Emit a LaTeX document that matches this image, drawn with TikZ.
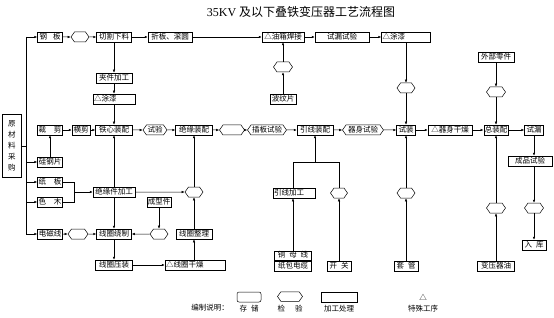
\documentclass[tikz,border=0pt]{standalone}
\usepackage{fontspec}
\setmainfont{Liberation Serif}
\newfontfamily\cjk{Noto Sans CJK SC}
\usetikzlibrary{shapes.symbols,arrows.meta}
\begin{document}
\begin{tikzpicture}[x=1pt,y=-1pt,
 font=\cjk\fontsize{7.5}{8}\selectfont,
 box/.style={draw, line width=0.5pt, fill=white, inner sep=1pt, minimum height=10pt, text height=6pt, text depth=1.5pt},
 lbox/.style={box, align=left},
 hexa/.style={draw, line width=0.5pt, fill=white, shape=signal, signal to=west and east, signal pointer angle=110, inner sep=1pt, minimum height=10pt, text height=6pt, text depth=1.5pt},
 arr/.style={-{Latex[length=3pt,width=2.5pt]}, line width=0.5pt},
 ln/.style={line width=0.5pt}]
\useasboundingbox (0,0) rectangle (554,318);

% title
\node (title) at (301,12) {\fontsize{12}{14}\selectfont{\fontspec{Liberation Serif}35KV} 及以下叠铁变压器工艺流程图};

% row 1
\node[box, minimum width=25pt] (gb) at (50,37) {钢\hspace{6pt}板};
\node[hexa, minimum width=18pt] (h1) at (80,37) {};
\node[box, minimum width=35pt] (qg) at (114,37) {切割下料};
\node[box, minimum width=44pt] (zb) at (170,37) {折板、滚圆};
\node[box, minimum width=42pt] (yx) at (283,37) {△油箱焊接};
\node[box, minimum width=54pt] (sl) at (342,37) {试漏试验};
\node[box, minimum width=49pt, text width=47pt, align=left] (tq1) at (406,37) {△涂漆};

\node[box, minimum width=36pt] (jj) at (114,78) {夹件加工};
\node[box, minimum width=42pt, text width=40pt, align=left] (tq2) at (114,99) {△涂漆};
\node[hexa, minimum width=19pt] (h2) at (283,67) {};
\node[box, minimum width=26pt] (bwp) at (283,99) {波纹片};
\node[hexa, minimum width=18pt] (h3) at (406,88) {};
\node[box, minimum width=36pt] (wb) at (496,57) {外部零件};
\node[hexa, minimum width=19pt] (h4) at (496,92) {};

% raw material
\node[box, minimum width=19pt, minimum height=63pt, text height=, text depth=, align=center, font=\cjk\fontsize{7.5}{11}\selectfont] (ycl) at (12,146) {原\\材\\料\\采\\购};
\coordinate (t1) at (26,37);
\coordinate (t2) at (26,234);

% row 2
\node[box, minimum width=25pt] (cj) at (50,130) {裁\hspace{8pt}剪};
\node[box, minimum width=18pt] (hj) at (81,130) {横剪};
\node[box, minimum width=37pt] (tx) at (114,130) {铁心装配};
\node[hexa, minimum width=23pt] (sy) at (155,130) {试验};
\node[box, minimum width=37pt] (jy) at (194,130) {绝缘装配};
\node[hexa, minimum width=25pt] (h5) at (232,130) {};
\node[hexa, minimum width=39pt] (cb) at (267,130) {插板试验};
\node[box, minimum width=36pt] (yxz) at (315,130) {引线装配};
\node[hexa, minimum width=41pt] (qs) at (363,130) {器身试验};
\node[box, minimum width=19pt] (sz) at (406,130) {试装};
\node[box, minimum width=44pt] (qg2) at (450,130) {△器身干燥};
\node[box, minimum width=23pt] (zz) at (496,130) {总装配};
\node[box, minimum width=19pt] (sl2) at (534,130) {试漏};

% left lower
\node[box, minimum width=25pt] (gg) at (50,162) {硅钢片};
\node[box, minimum width=25pt] (zbb) at (50,182) {纸\hspace{8pt}板};
\node[box, minimum width=25pt] (sm) at (50,202) {色\hspace{8pt}木};
\node[box, minimum width=42pt] (jyj) at (114,192) {绝缘件加工};
\node[hexa, minimum width=18pt] (h6) at (194,192) {};
\node[box, minimum width=24pt] (cx) at (159,202) {成型件};
\node[box, minimum width=25pt] (dcx) at (50,234) {电磁线};
\node[hexa, minimum width=20pt] (h7) at (78,234) {};
\node[box, minimum width=35pt] (xr) at (114,234) {线圈绕制};
\node[hexa, minimum width=18pt] (h8) at (159,234) {};
\node[box, minimum width=36pt] (xz) at (194,234) {线圈整理};
\node[box, minimum width=37pt] (xy) at (114,265) {线圈压装};
\node[box, minimum width=60pt, text width=58pt, align=left] (xg) at (195,265) {△线圈干燥};

% middle lower
\coordinate (j1) at (293,162);
\coordinate (j2) at (339,162);
\coordinate (j3) at (315,162);
\node[box, minimum width=42pt, text width=40pt, align=left] (yjg) at (294,193) {引线加工};
\node[hexa, minimum width=17pt] (h9) at (339,193) {};
\node[hexa, minimum width=18pt] (h10) at (406,193) {};
\node[box, minimum width=37pt, minimum height=9.5pt] (tmx) at (293,255.5) {铜\hspace{4pt}母\hspace{4pt}线};
\node[box, minimum width=37pt] (zbd) at (293,266) {纸包电缆};
\node[box, minimum width=24pt] (kg) at (339,266) {开\hspace{4pt}关};
\node[box, minimum width=24pt] (tg) at (406,266) {套\hspace{4pt}管};

% right lower
\node[hexa, minimum width=19pt] (h11) at (496,208) {};
\node[box, minimum width=37pt] (byq) at (496,266) {变压器油};
\node[box, minimum width=44pt] (cp) at (530,161) {成品试验};
\node[hexa, minimum width=19pt] (h12) at (534,208) {};
\node[box, minimum width=24pt] (rk) at (534,245) {入\hspace{4pt}库};

% legend
\node (lgt) at (210,308) {编制说明：};
\node[box, rounded corners=2pt, minimum width=24pt] (lg1) at (249,297) {};
\node (lgt1) at (249,309) {存\hspace{4pt}储};
\node[hexa, minimum width=25pt, minimum height=9pt] (lg2) at (290,296.5) {};
\node (lgt2) at (290,309) {检\hspace{10pt}验};
\node[box, minimum width=36pt] (lg3) at (339,297) {};
\node (lgt3) at (339,309) {加工处理};
\node (lg4) at (423,297) {△};
\node (lgt4) at (423,309) {特殊工序};

% connectors: trunk
\draw[ln] (t1) -- (t2);
\draw[ln] (ycl.east) -- (ycl.east -| t1);
\draw[arr] (t1) -- (gb.west);
\draw[arr] (t1 |- gg) -- (gg.west);
\draw[arr] (t1 |- zbb) -- (zbb.west);
\draw[arr] (t1 |- sm) -- (sm.west);
\draw[arr] (t2) -- (dcx.west);

% row 1
\draw[arr] (gb) -- (h1);
\draw[arr] (h1) -- (qg);
\draw[arr] (qg) -- (zb);
\draw[arr] (zb) -- (yx);
\draw[arr] (yx) -- (sl);
\draw[arr] (sl) -- (tq1);
\draw[arr] (qg) -- (jj);
\draw[arr] (jj) -- (tq2);
\draw[arr] (tq2) -- (tx);
\draw[arr] (bwp) -- (h2);
\draw[arr] (h2) -- (yx);
\draw[arr] (tq1) -- (h3);
\draw[arr] (h3) -- (sz);
\draw[arr] (wb) -- (h4);
\draw[arr] (h4) -- (zz);

% row 2
\draw[arr] (cj) -- (hj);
\draw[arr] (hj) -- (tx);
\draw[arr] (tx) -- (sy);
\draw[arr] (sy) -- (jy);
\draw[arr] (jy) -- (h5);
\draw[arr] (h5) -- (cb);
\draw[arr] (cb) -- (yxz);
\draw[arr] (yxz) -- (qs);
\draw[arr] (qs) -- (sz);
\draw[arr] (sz) -- (qg2);
\draw[arr] (qg2) -- (zz);
\draw[arr] (zz) -- (sl2);

% left lower
\draw[arr] (gg) -- (cj);
\draw[arr] (jyj.north) -- (tx.south);
\draw[arr] (jyj.south) -- (xr.north);
\draw[ln] (zbb.east) -- (74,182) -- (74,202) -- (sm.east);
\draw[arr] (74,192) -- (jyj.west);
\draw[arr] (jyj) -- (h6);
\draw[arr] (h6) -- (jy);
\draw[arr] (xz) -- (h6);
\draw[arr] (xg.north -| xz) -- (xz.south);
\draw[arr] (xy) -- (xg);
\draw[arr] (xr) -- (xy);
\draw[arr] (cx) -- (h8);
\draw[arr] (h8) -- (xr);
\draw[arr] (dcx) -- (h7);
\draw[arr] (h7) -- (xr);

% middle lower
\draw[ln] (j1 |- yjg.north) -- (j1) -- (j2) -- (h9.north);
\draw[arr] (j3) -- (yxz.south);
\draw[arr] (tmx.north) -- (tmx.north |- yjg.south);
\draw[arr] (kg) -- (h9);
\draw[arr] (tg) -- (h10);
\draw[arr] (h10) -- (sz);

% right lower
\draw[arr] (byq) -- (h11);
\draw[arr] (h11) -- (zz);
\draw[arr] (sl2.south) -- (sl2.south |- cp.north);
\draw[arr] (cp.south -| h12) -- (h12.north);
\draw[arr] (h12) -- (rk);
\end{tikzpicture}
\end{document}
